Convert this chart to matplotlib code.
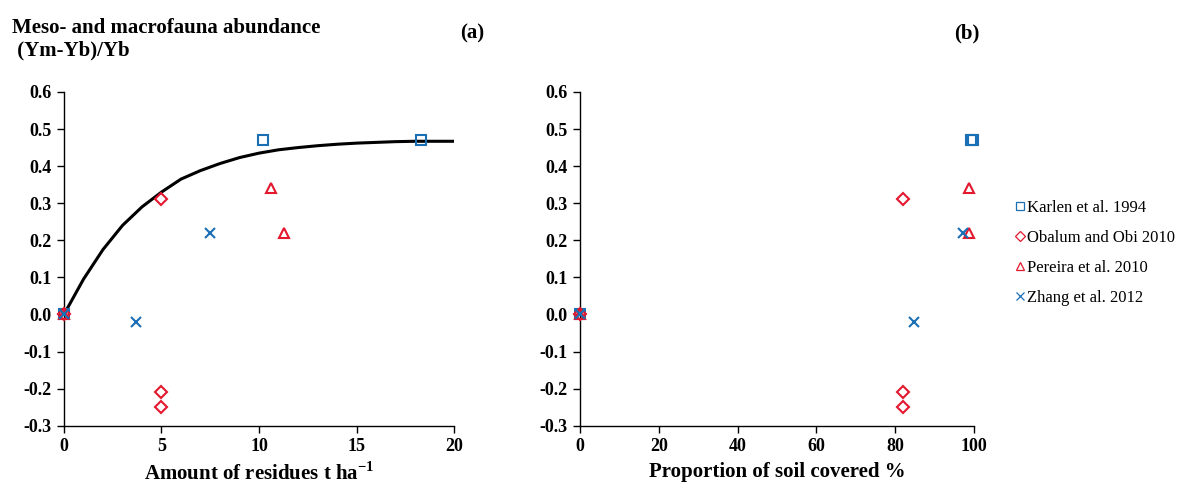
import matplotlib
matplotlib.use("Agg")
import matplotlib.pyplot as plt
from matplotlib.lines import Line2D

plt.rcParams['font.family'] = ['Liberation Serif', 'DejaVu Serif']
plt.rcParams['mathtext.fontset'] = 'custom'
plt.rcParams['mathtext.rm'] = 'Liberation Serif:bold'
plt.rcParams['mathtext.bf'] = 'Liberation Serif:bold'

# ---- data ----
series_names = ["Karlen et al. 1994", "Obalum and Obi 2010", "Pereira et al. 2010", "Zhang et al. 2012"]

karlen_res = [0, 10.2, 18.3]
karlen_cov = [0, 99.2, 99.8]
karlen_y = [0, 0.47, 0.47]

obalum_res = [0, 5, 5, 5]
obalum_cov = [0, 82, 82, 82]
obalum_y = [0, 0.31, -0.21, -0.25]

pereira_res = [0, 10.6, 11.3]
pereira_cov = [0, 98.6, 98.8]
pereira_y = [0, 0.34, 0.22]

zhang_res = [0, 3.7, 7.5]
zhang_cov = [0, 84.8, 97.3]
zhang_y = [0, -0.02, 0.22]

curve_x = [0, 1, 2, 3, 4, 5, 6, 7, 8, 9, 10, 11, 12, 13, 14, 15, 16, 17, 18, 19, 20]
curve_y = [0, 0.095, 0.175, 0.24, 0.29, 0.33, 0.365, 0.388, 0.407, 0.423, 0.435,
           0.444, 0.45, 0.455, 0.459, 0.462, 0.464, 0.466, 0.467, 0.467, 0.467]

yticks = [-0.3, -0.2, -0.1, 0.0, 0.1, 0.2, 0.3, 0.4, 0.5, 0.6]
xticks_a = [0, 5, 10, 15, 20]
xticks_b = [0, 20, 40, 60, 80, 100]

BLUE = '#1a6fb5'
RED = '#e3172d'

styles = [
    dict(marker='s', mec=BLUE, mfc='none', ms=7.5, mew=1.5),
    dict(marker='D', mec=RED, mfc='none', ms=6, mew=1.5),
    dict(marker='^', mec=RED, mfc='none', ms=7.5, mew=1.5),
    dict(marker='x', mec=BLUE, mfc='none', ms=7, mew=1.5),
]

fig = plt.figure(figsize=(11.87, 4.84), dpi=100)
axA = fig.add_axes([0.0539, 0.1205, 0.3286, 0.6895])
axB = fig.add_axes([0.4886, 0.1205, 0.3320, 0.6895])

xs_a = [karlen_res, obalum_res, pereira_res, zhang_res]
xs_b = [karlen_cov, obalum_cov, pereira_cov, zhang_cov]
ys = [karlen_y, obalum_y, pereira_y, zhang_y]

axA.plot(curve_x, curve_y, color='black', lw=2.2, zorder=2)

for ax, xs, xt, xl, lab in [(axA, xs_a, xticks_a, 20, r"Amount of residues t ha$^{-1}$"),
                           (axB, xs_b, xticks_b, 100, "Proportion of soil covered %")]:
    for x, y, st in zip(xs, ys, styles):
        ax.plot(x, y, ls='none', zorder=3, clip_on=False, **st)
    ax.set_xlim(0, xl)
    ax.set_ylim(-0.3, 0.6)
    ax.set_xticks(xt)
    ax.set_yticks(yticks)
    ax.set_yticklabels([f"{v:.1f}" for v in yticks])
    for s in ['top', 'right']:
        ax.spines[s].set_visible(False)
    for s in ['left', 'bottom']:
        ax.spines[s].set_color('black')
        ax.spines[s].set_linewidth(1.0)
    ax.tick_params(direction='out', length=5, width=1, labelsize=13, pad=4)
    for t in ax.get_xticklabels() + ax.get_yticklabels():
        t.set_fontweight('bold')
    ax.set_xlabel(lab, fontsize=15, fontweight='bold', labelpad=5)

fig.text(0.010, 0.942, "Meso- and macrofauna abundance", fontsize=15, fontweight='bold', va='center')
fig.text(0.010, 0.895, " (Ym-Yb)/Yb", fontsize=15, fontweight='bold', va='center')
fig.text(472.5 / 1187, 1 - 33 / 484, "(a)", fontsize=15, fontweight='bold', ha='center', va='center')
fig.text(966.5 / 1187, 1 - 33 / 484, "(b)", fontsize=15, fontweight='bold', ha='center', va='center')

handles = []
for st, name in zip(styles, series_names):
    h = dict(st)
    h['mew'] = 0.9
    h['ms'] = st['ms'] * 0.8
    handles.append(Line2D([], [], ls='none', label=name, **h))
fig.legend(handles=handles, loc='center left', bbox_to_anchor=(0.848, 1 - 253 / 484),
           frameon=False, fontsize=12, handlelength=0.6, handletextpad=0.15,
           labelspacing=0.85, borderpad=0)

fig.savefig("out.png", dpi=100)
